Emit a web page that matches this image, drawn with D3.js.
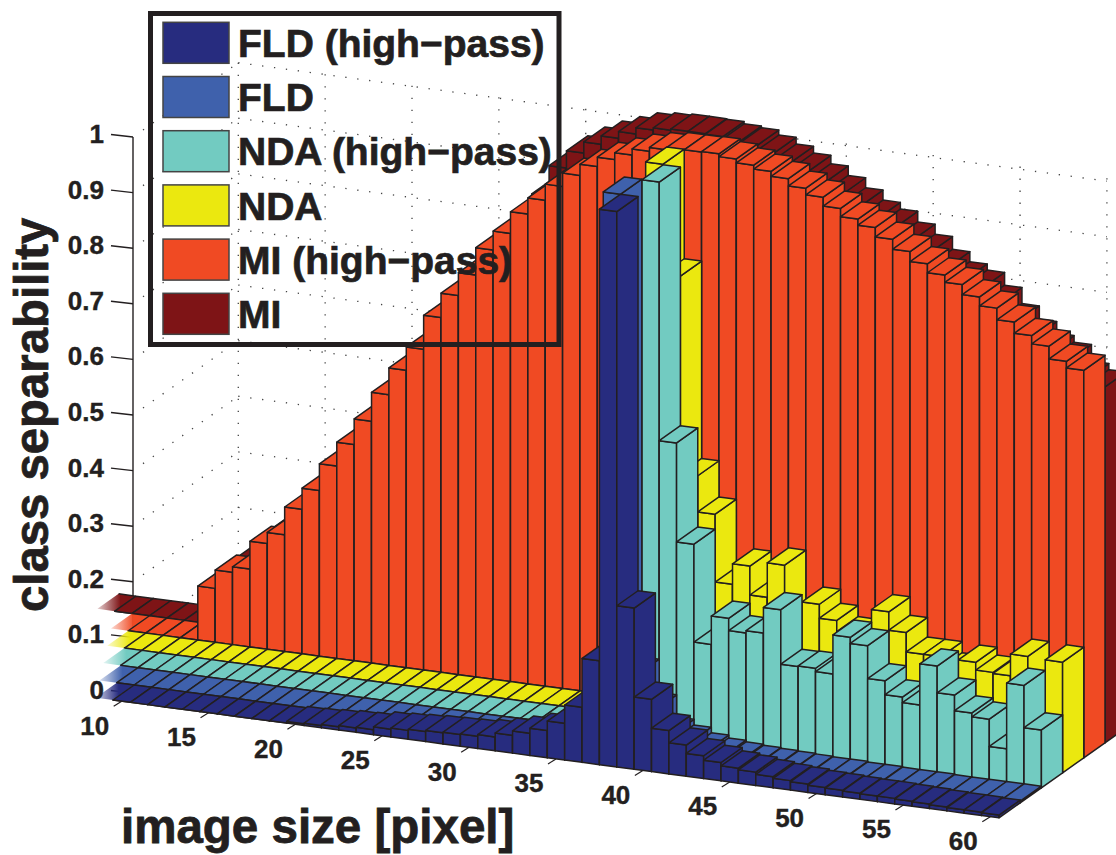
<!DOCTYPE html>
<html>
<head>
<meta charset="utf-8">
<style>
  body { margin: 0; background: #fff; }
  svg { display: block; font-family: "Liberation Sans", Arial, sans-serif; font-weight: bold; }
</style>
<script src="https://cdn.jsdelivr.net/npm/d3@7"></script>
</head>
<body>
<div id="chart"></div>
<script>
// image size for each bar, 10..60
const sizes = d3.range(10, 61);
const xTicks = [10, 15, 20, 25, 30, 35, 40, 45, 50, 55, 60];
const zTicks = [0, 0.1, 0.2, 0.3, 0.4, 0.5, 0.6, 0.7, 0.8, 0.9, 1];

const seriesNames = ['FLD (high\u2212pass)', 'FLD', 'NDA (high\u2212pass)', 'NDA', 'MI (high\u2212pass)', 'MI'];
const seriesColors = ['#272c7f', '#3f61ac', '#72cbc1', '#ebe80f', '#f04a23', '#7e1416'];

// first (faded) floor cell of each row, the floor runs on left of size 10
const floorStart = [9, 8, 7, 6, 5, 3];

const fldHigh = [0, 0, 0, 0, 0, 0, 0, 0, 0, 0,
  .003, .004, .006, .008, .009, .014, .016, .018, .02, .021,
  .022, .025, .032, .04, .049, .066, .099, .187, .999, .29,
  .13, .078, .056, .041, .033, .027, .024, .02, .017, .015,
  .013, .012, .011, .01, .01, .009, .008, .007, .006, .006, .005];
const fld = [0, 0, 0, 0, 0, 0, 0, 0, 0, 0,
  0, 0, 0, 0, 0, 0, 0, 0, 0, 0,
  0, 0, 0, 0, 0, 0, .05, .999, .14, .08,
  .04, .03, .02, .015, .012, .01, .009, .008, .007, .006,
  .006, .005, .005, .004, .004, .004, .003, .003, .003, .003, .003];
const ndaHigh = [0, 0, 0, 0, 0, 0, 0, 0, 0, 0,
  0, 0, 0, 0, 0, 0, 0, 0, 0, 0,
  0, 0, 0, 0, 0, 0, .1, .4, .998, .533,
  .355, .179, .23, .208, .212, .258, .16, .161, .155, .225,
  .214, .155, .13, .12, .194, .146, .118, .111, .062, .18, .104];
const nda = [0, 0, 0, 0, 0, 0, 0, 0, 0, 0,
  0, 0, 0, 0, 0, 0, 0, 0, 0, 0,
  0, 0, 0, 0, 0, .02, .1, .999, .802, .447,
  .382, .26, .297, .245, .307, .2, .245, .22, .2, .19,
  .248, .215, .18, .18, .16, .178, .164, .162, .201, .14, .199];
const miHigh = [.097, .13, .14, .19, .21, .26, .298, .346, .389, .435,
  .487, .535, .577, .638, .682, .723, .772, .806, .845, .874,
  .903, .927, .947, .964, .976, .987, .994, .998, .998, .999,
  .994, .987, .98, .971, .958, .946, .93, .915, .904, .887,
  .869, .851, .835, .822, .804, .788, .767, .747, .732, .709, .697];
const mi = [.09, .125, .135, .185, .205, .255, .293, .341, .384, .43,
  .482, .53, .572, .633, .677, .718, .767, .801, .85, .905,
  .936, .956, .971, .983, .994, .998, 1, 1, .999, .995,
  .992, .983, .971, .959, .944, .927, .909, .891, .879, .86,
  .842, .819, .801, .79, .767, .738, .714, .693, .681, .651, .64];

const rows = [fldHigh, fld, ndaHigh, nda, miHigh, mi];

const width = 1116;
const height = 855;
const edge = '#231f20';

// oblique projection of the 3d box: column, row and height each add a screen offset
const colX = d3.scaleLinear().domain([10, 61]).range([113, 999]);
const colY = d3.scaleLinear().domain([10, 61]).range([700, 817.8]);
const rowX = d3.scaleLinear().domain([0, 6]).range([0, 127.2]);
const rowY = d3.scaleLinear().domain([0, 6]).range([0, -90]);
const zLift = d3.scaleLinear().domain([0, 1]).range([0, -556]);
const zAxisY = d3.scaleLinear().domain([0, 1]).range([693, 137]);
const zAxisX = 133;
const xLabelY = d3.scaleLinear().domain([10, 60]).range([735, 849.5]);

function project(col, row, z) {
  return [colX(col) + rowX(row), colY(col) + rowY(row) + zLift(z)];
}

const svg = d3.select('#chart').append('svg')
  .attr('width', width)
  .attr('height', height);

const defs = svg.append('defs');
seriesColors.forEach((color, i) => {
  const grad = defs.append('linearGradient').attr('id', 'fade' + i);
  grad.append('stop').attr('offset', '0%').attr('stop-color', color).attr('stop-opacity', 0.2);
  grad.append('stop').attr('offset', '60%').attr('stop-color', color).attr('stop-opacity', 1);
});

// dotted grid on the two back walls
const gridRow = 5.5;
const grid = svg.append('g')
  .attr('fill', 'none')
  .attr('stroke', '#444')
  .attr('stroke-width', 1.3)
  .attr('stroke-dasharray', '1.3 10.7');

const wallZ = zTicks;
grid.selectAll('.left-wall')
  .data(wallZ)
  .join('line')
  .attr('class', 'left-wall')
  .attr('x1', zAxisX + 10)
  .attr('y1', d => zAxisY(d) - 7)
  .attr('x2', project(10.5, gridRow, 0)[0])
  .attr('y2', d => project(10.5, gridRow, d)[1]);

grid.selectAll('.back-wall')
  .data(wallZ)
  .join('line')
  .attr('class', 'back-wall')
  .attr('x1', project(10.5, gridRow, 0)[0])
  .attr('y1', d => project(10.5, gridRow, d)[1])
  .attr('x2', project(60.5, gridRow, 0)[0])
  .attr('y2', d => project(60.5, gridRow, d)[1] + 3);

grid.selectAll('.wall-v')
  .data(xTicks)
  .join('line')
  .attr('class', 'wall-v')
  .attr('x1', d => project(d + 0.5, gridRow, 0)[0])
  .attr('x2', d => project(d + 0.5, gridRow, 0)[0])
  .attr('y1', d => project(d + 0.5, gridRow, 1)[1])
  .attr('y2', d => project(d + 0.5, gridRow, 0)[1]);

// z axis
const zAxis = svg.append('g').attr('stroke', edge).attr('stroke-width', 1.4);
zAxis.append('line')
  .attr('x1', zAxisX).attr('x2', zAxisX)
  .attr('y1', zAxisY(1)).attr('y2', zAxisY(0));
zAxis.selectAll('.ztick')
  .data(zTicks)
  .join('line')
  .attr('class', 'ztick')
  .attr('x1', zAxisX)
  .attr('y1', d => zAxisY(d))
  .attr('x2', zAxisX - 22)
  .attr('y2', d => zAxisY(d) - 2.5);

const polyPath = pts => 'M' + pts.map(p => p.join(',')).join('L') + 'Z';

// one bar3 column: top, front and right side. Back rows first, then left to right
function drawBar(g, col, row, z, color) {
  const a = project(col, row, z);
  const b = project(col + 1, row, z);
  const c = project(col + 1, row + 1, z);
  const d = project(col, row + 1, z);
  const a0 = project(col, row, 0);
  const b0 = project(col + 1, row, 0);
  const c0 = project(col + 1, row + 1, 0);
  [[a, b, b0, a0], [b, c, c0, b0], [a, b, c, d]].forEach(face => {
    g.append('path').attr('d', polyPath(face)).attr('fill', color);
  });
}

const bars = svg.append('g')
  .attr('stroke', edge)
  .attr('stroke-width', 1.5)
  .attr('stroke-linejoin', 'round');

d3.range(rows.length - 1, -1, -1).forEach(row => {
  const g = bars.append('g').attr('class', 'row-' + row);
  const color = seriesColors[row];
  const start = floorStart[row];

  // faded corner cell, only its back edge is stroked
  const tip = [project(start, row, 0), project(start + 1, row, 0), project(start + 1, row + 1, 0), project(start, row + 1, 0)];
  g.append('path').attr('d', polyPath(tip)).attr('fill', 'url(#fade' + row + ')').attr('stroke', 'none');
  g.append('line')
    .attr('x1', tip[3][0]).attr('y1', tip[3][1])
    .attr('x2', tip[2][0]).attr('y2', tip[2][1]);

  d3.range(start + 1, 10).forEach(col => drawBar(g, col, row, 0, color));
  sizes.forEach((col, i) => drawBar(g, col, row, rows[row][i], color));
});

// x ticks and labels
const xAxis = svg.append('g');
xAxis.selectAll('line')
  .data(xTicks)
  .join('line')
  .attr('x1', d => project(d + 0.5, 0, 0)[0])
  .attr('y1', d => project(d + 0.5, 0, 0)[1])
  .attr('x2', d => project(d + 0.5, 0, 0)[0] - 8)
  .attr('y2', d => project(d + 0.5, 0, 0)[1] + 5)
  .attr('stroke', edge)
  .attr('stroke-width', 1.2);
xAxis.selectAll('text')
  .data(xTicks)
  .join('text')
  .attr('x', d => project(d + 0.5, 0, 0)[0] - 27)
  .attr('y', d => xLabelY(d))
  .attr('text-anchor', 'middle')
  .attr('font-size', 26)
  .attr('fill', edge)
  .attr('stroke', edge)
  .attr('stroke-width', 0.4)
  .text(d => d);

// z labels
svg.append('g').selectAll('text')
  .data(zTicks)
  .join('text')
  .attr('x', 104)
  .attr('y', d => zAxisY(d) + 6)
  .attr('text-anchor', 'end')
  .attr('font-size', 26)
  .attr('fill', edge)
  .attr('stroke', edge)
  .attr('stroke-width', 0.4)
  .text(d => d);

// axis titles
svg.append('text')
  .attr('transform', 'translate(48,612) rotate(-90)')
  .attr('font-size', 47.3)
  .attr('fill', edge)
  .attr('stroke', edge)
  .attr('stroke-width', 0.8)
  .text('class separability');
svg.append('text')
  .attr('x', 121)
  .attr('y', 843)
  .attr('font-size', 47.5)
  .attr('fill', edge)
  .attr('stroke', edge)
  .attr('stroke-width', 0.8)
  .text('image size [pixel]');

// legend has no background, the bars show through it
const legend = svg.append('g');
const legendY = d3.scaleLinear().domain([0, 5]).range([22.3, 293.3]);
legend.append('rect')
  .attr('x', 150.5).attr('y', 13.5)
  .attr('width', 408.5).attr('height', 331)
  .attr('fill', 'none')
  .attr('stroke', edge)
  .attr('stroke-width', 5);
legend.selectAll('rect.swatch')
  .data(seriesNames)
  .join('rect')
  .attr('class', 'swatch')
  .attr('x', 163)
  .attr('y', (d, i) => legendY(i))
  .attr('width', 66)
  .attr('height', 41)
  .attr('fill', (d, i) => seriesColors[i])
  .attr('stroke', '#444')
  .attr('stroke-width', 1.5);
legend.selectAll('text')
  .data(seriesNames)
  .join('text')
  .attr('x', 238)
  .attr('y', (d, i) => legendY(i) + 34.7)
  .attr('font-size', 39)
  .attr('fill', edge)
  .attr('stroke', edge)
  .attr('stroke-width', 0.7)
  .text(d => d);
</script>
</body>
</html>
